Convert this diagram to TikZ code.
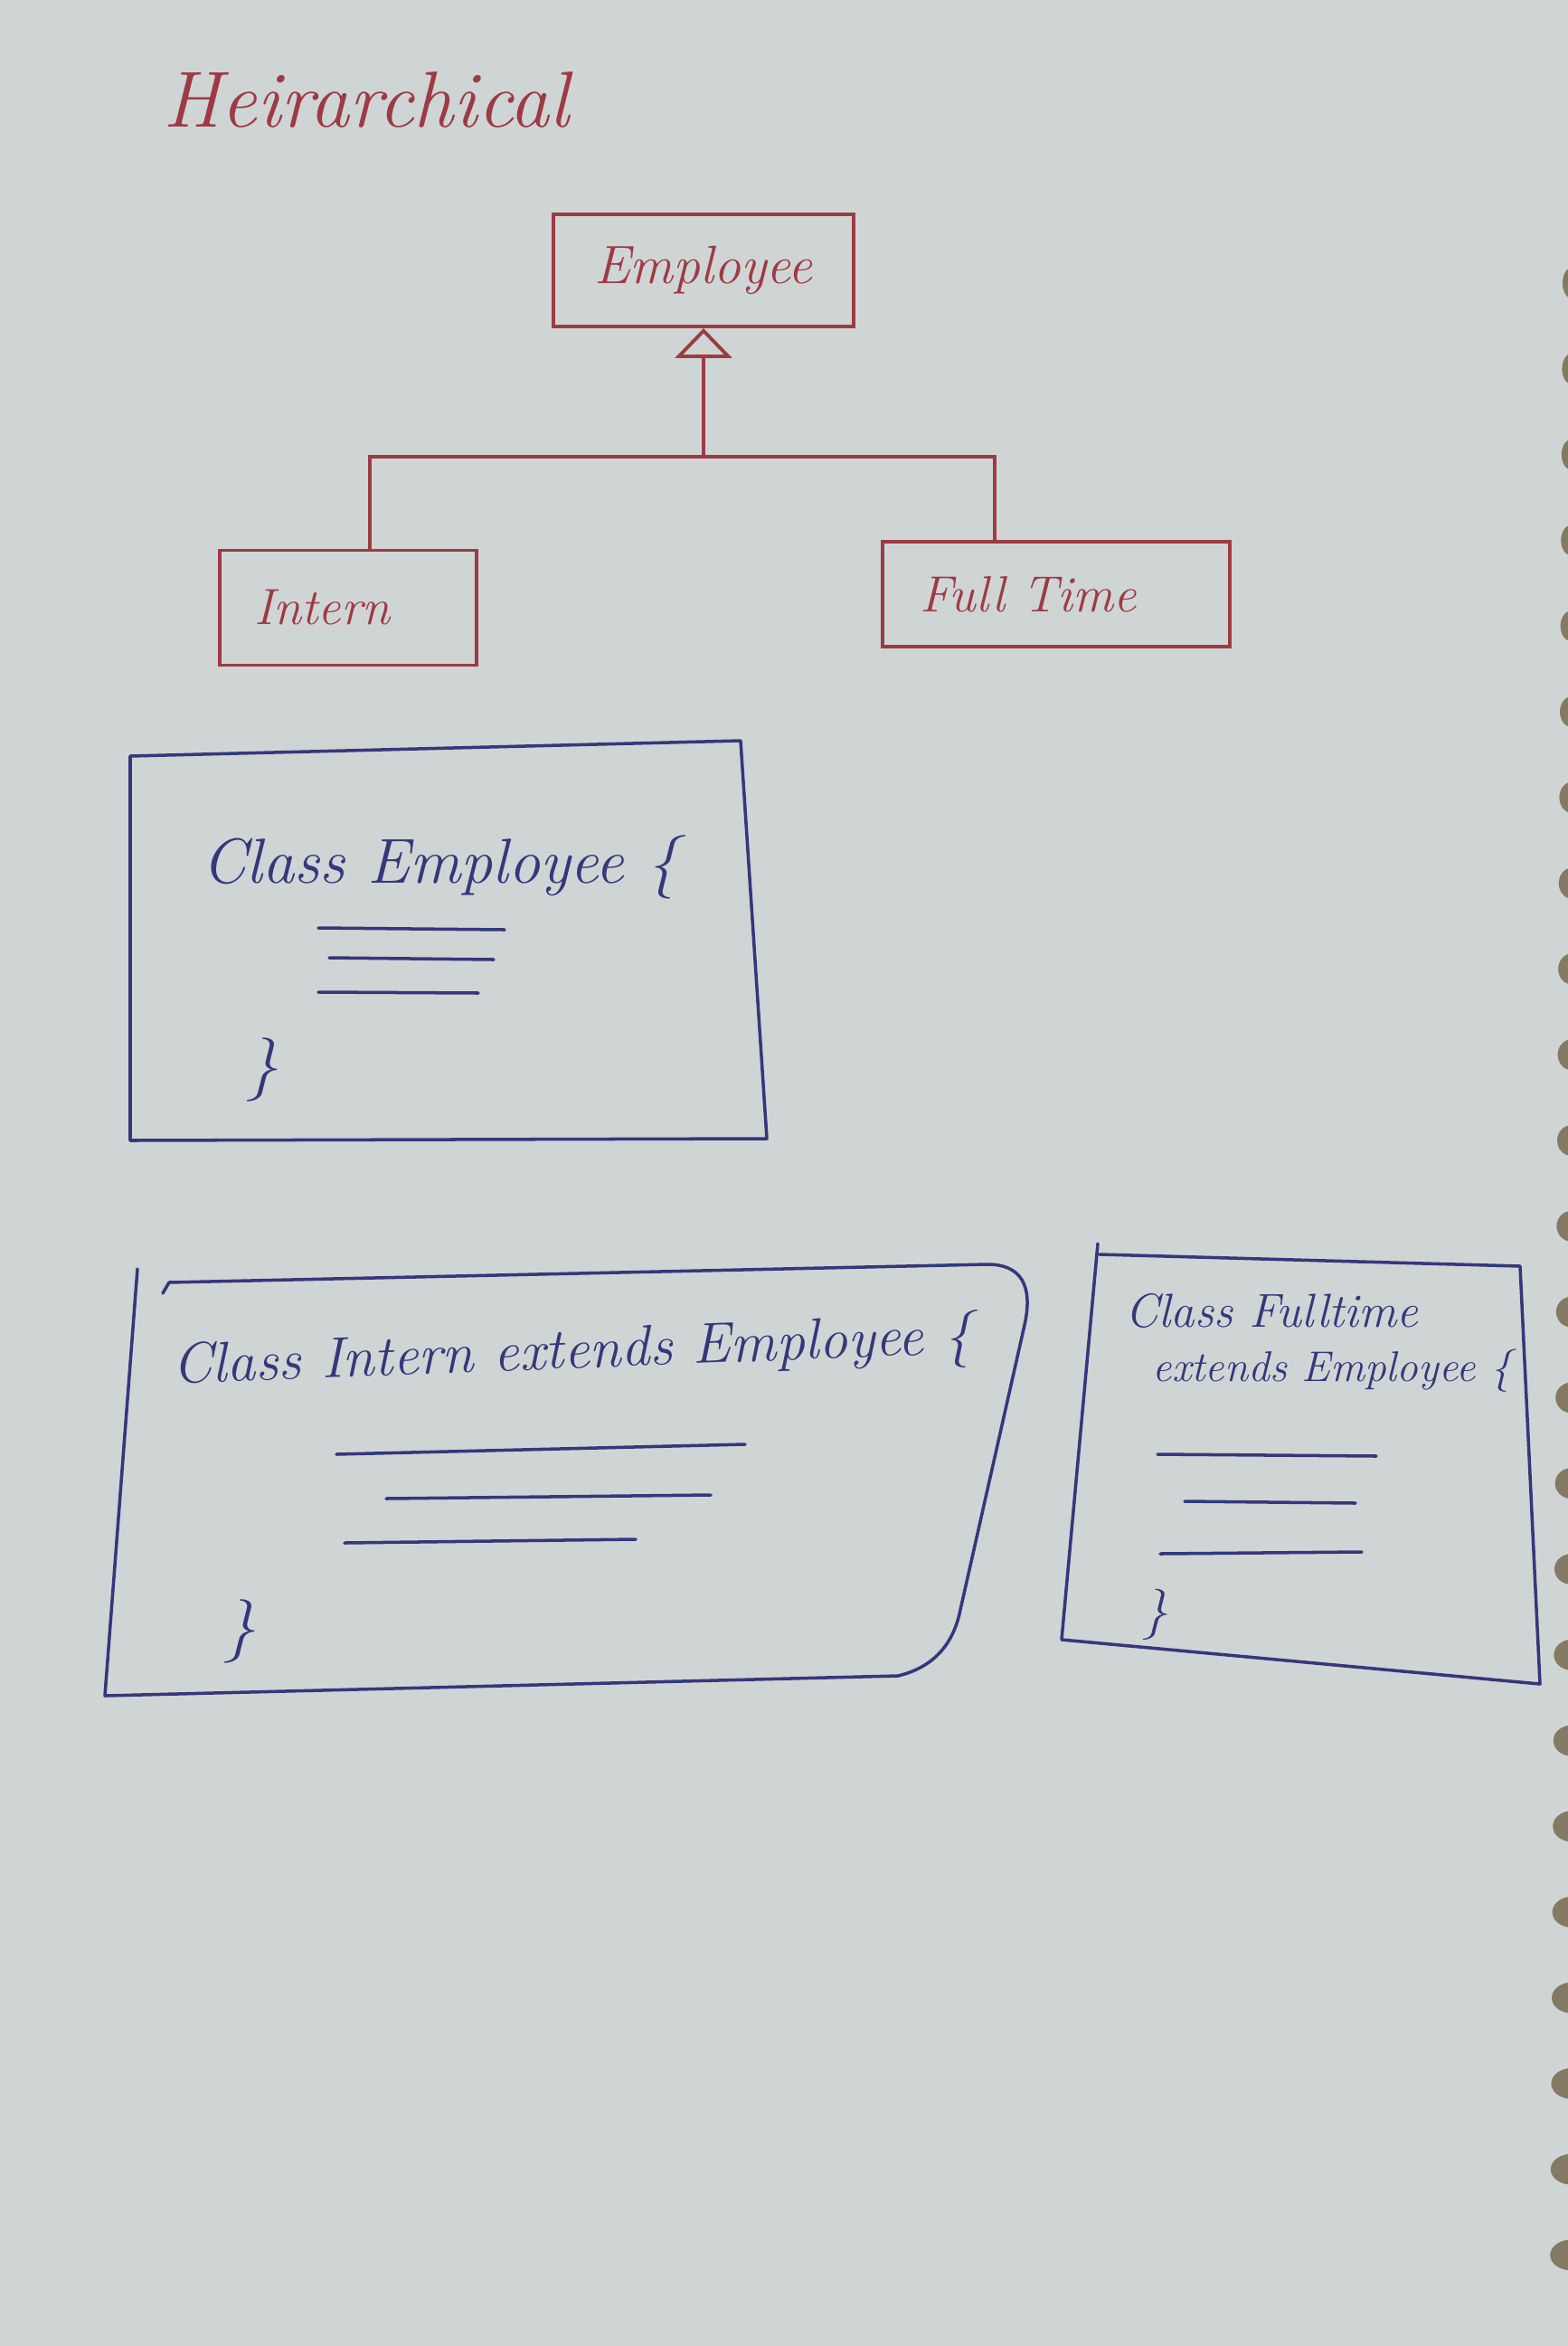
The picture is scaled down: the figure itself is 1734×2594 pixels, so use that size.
\documentclass[tikz,border=0pt]{standalone}
\usepackage{fontspec}
\usetikzlibrary{arrows.meta}
\definecolor{paper}{RGB}{207,213,213}
\definecolor{redink}{RGB}{158,58,68}
\definecolor{blueink}{RGB}{52,56,122}
\definecolor{ring}{RGB}{132,122,100}
\begin{document}
\begin{tikzpicture}[x=0.01cm, y=-0.01cm]
	\tikzstyle{classbox} = [draw=redink, line width=1.1pt, text=redink, font=\itshape\fontsize{17}{20}\selectfont]
	\tikzstyle{redline} = [draw=redink, line width=1.1pt]
	\tikzstyle{blueline} = [draw=blueink, line width=1pt, line cap=round, line join=round]
	\tikzstyle{code} = [text=blueink, inner sep=0pt, font=\itshape\fontsize{20}{24}\selectfont]
	\useasboundingbox (0,0) rectangle (1734,2594);
	\fill [paper] (0,0) rectangle (1734,2594);
	\foreach \i in {0,...,23}
		\fill [ring] (1738,{313+94.8*\i}) ellipse [x radius={0.1cm+0.006cm*\i}, y radius=0.17cm];
	\node (Title) [text=redink, font=\itshape\fontsize{25}{30}\selectfont, anchor=base] at (405,141) {Heirarchical};
	\node (Employee) [classbox, minimum width=3.31cm, minimum height=1.24cm] at (778,299) {Employee};
	\node (Intern) [classbox, font=\itshape\fontsize{16}{19}\selectfont, minimum height=1.27cm, text width=2.07cm, inner xsep=0.38cm, align=left] at (385,672) {Intern};
	\node (FullTime) [classbox, font=\itshape\fontsize{16}{19}\selectfont, minimum height=1.16cm, text width=3.0cm, inner xsep=0.42cm, align=left] at (1168,657) {Full Time};
	\coordinate (hub) at (778,505);
	\draw [redline, -{Triangle[open, length=0.33cm, width=0.63cm]}] (hub) -- (Employee.south);
	\draw [redline] ([xshift=0.24cm]Intern.north) |- (hub);
	\draw [redline] ([xshift=-0.68cm]FullTime.north) |- (hub);
	\draw [blueline] (144,836) -- (819,819) -- (848,1259) -- (144,1261) -- cycle;
	\node (EmpCode) [code, anchor=base west] at (223,976) {Class Employee \{};
	\draw [blueline] (352,1026) -- (558,1028);
	\draw [blueline] (364,1059) -- (546,1061);
	\draw [blueline] (352,1097) -- (529,1098);
	\node (EmpEnd) [code] at (290,1183) {\}};
	\draw [blueline] (152,1403) -- (116,1875) -- (993,1853) .. controls (1035,1843) and (1055,1815) .. (1062,1780) -- (1133,1465) .. controls (1143,1420) and (1128,1398) .. (1092,1398) -- (187,1418) -- (180,1430);
	\node (InternCode) [code, font=\itshape\fontsize{18}{22}\selectfont, rotate=2.2] at (633,1497) {Class Intern extends Employee \{};
	\draw [blueline] (372,1608) -- (824,1597);
	\draw [blueline] (427,1657) -- (786,1653);
	\draw [blueline] (381,1706) -- (703,1702);
	\node (InternEnd) [code] at (265,1804) {\}};
	\draw [blueline] (1214,1375) -- (1174,1813) -- (1703,1862) -- (1681,1400) -- (1216,1387);
	\node (FullCodeA) [code, font=\itshape\fontsize{15}{18}\selectfont, anchor=base west] at (1244,1467) {Class Fulltime};
	\node (FullCodeB) [code, font=\itshape\fontsize{13.5}{16}\selectfont, anchor=base west] at (1274,1527) {extends Employee \{};
	\draw [blueline] (1280,1608) -- (1522,1610);
	\draw [blueline] (1310,1660) -- (1499,1662);
	\draw [blueline] (1283,1718) -- (1506,1716);
	\node (FullEnd) [code, font=\itshape\fontsize{16}{19}\selectfont] at (1278,1785) {\}};
\end{tikzpicture}
\end{document}
